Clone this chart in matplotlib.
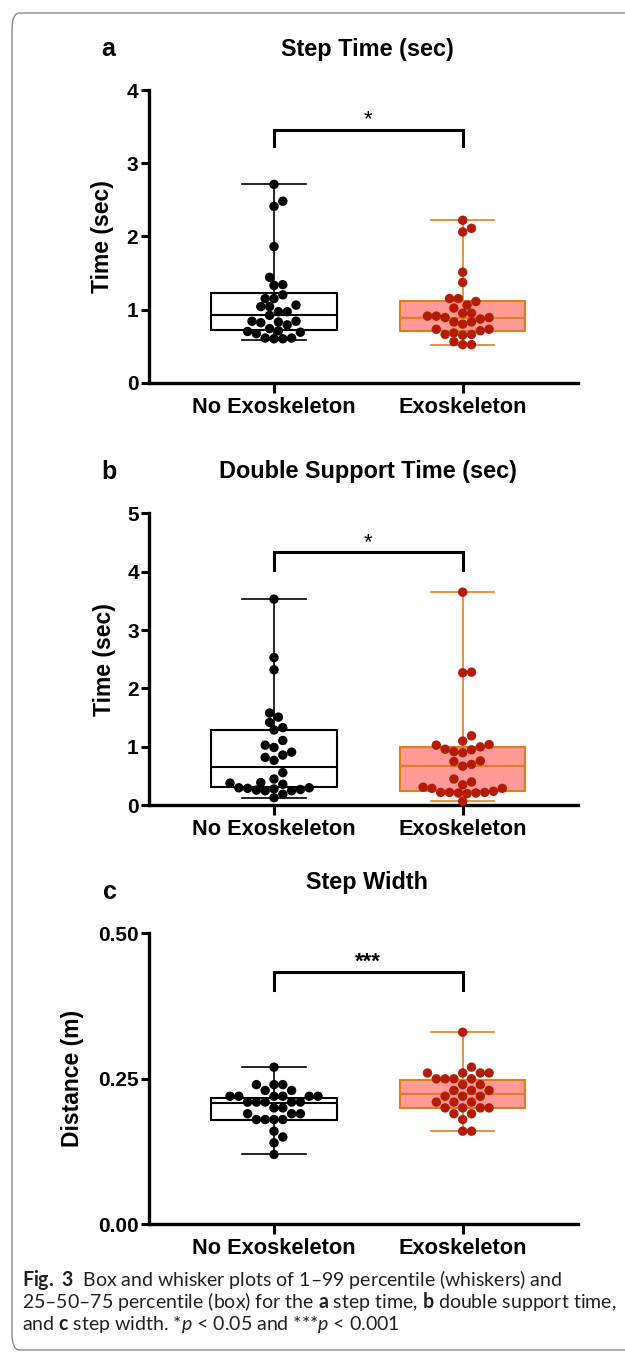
import numpy as np
import matplotlib
matplotlib.use("Agg")
import matplotlib.pyplot as plt
from matplotlib.patches import FancyBboxPatch

# ---------------- data ----------------
categories = ["No Exoskeleton", "Exoskeleton"]

step_time_no = [2.71, 2.48, 2.41, 1.86, 1.44, 1.34, 1.33, 1.20, 1.15, 1.15,
                1.06, 1.04, 1.04, 0.97, 0.97, 0.92, 0.84, 0.84, 0.83, 0.82,
                0.79, 0.74, 0.71, 0.70, 0.69, 0.67, 0.61, 0.61, 0.60, 0.60]
step_time_exo = [2.22, 2.11, 2.06, 1.51, 1.37, 1.15, 1.15, 1.11, 1.06, 1.02,
                 0.95, 0.95, 0.91, 0.91, 0.89, 0.89, 0.87, 0.83, 0.83, 0.80,
                 0.73, 0.73, 0.71, 0.68, 0.66, 0.66, 0.65, 0.56, 0.52, 0.52]

dst_no = [3.53, 2.53, 2.32, 1.58, 1.51, 1.42, 1.33, 1.29, 1.11, 1.03,
          0.99, 0.91, 0.86, 0.82, 0.77, 0.56, 0.45, 0.39, 0.38, 0.36,
          0.30, 0.30, 0.29, 0.28, 0.27, 0.26, 0.25, 0.25, 0.19, 0.13]
dst_exo = [3.65, 2.28, 2.27, 1.19, 1.10, 1.04, 1.03, 1.00, 0.96, 0.95,
           0.92, 0.90, 0.76, 0.75, 0.70, 0.67, 0.45, 0.40, 0.35, 0.31,
           0.29, 0.29, 0.24, 0.22, 0.22, 0.22, 0.21, 0.21, 0.20, 0.07]

width_no = [0.27, 0.24, 0.24, 0.24, 0.23, 0.23, 0.22, 0.22, 0.22, 0.22,
            0.22, 0.22, 0.21, 0.21, 0.21, 0.21, 0.21, 0.20, 0.20, 0.19,
            0.19, 0.19, 0.18, 0.18, 0.18, 0.18, 0.16, 0.15, 0.14, 0.12]
width_exo = [0.33, 0.27, 0.26, 0.26, 0.26, 0.26, 0.25, 0.25, 0.25, 0.25,
             0.24, 0.24, 0.23, 0.23, 0.23, 0.22, 0.22, 0.22, 0.21, 0.21,
             0.21, 0.20, 0.20, 0.20, 0.20, 0.19, 0.19, 0.18, 0.16, 0.16]

# box stats: [whisker low (1st pct), q1, median, q3, whisker high (99th pct)]
step_time_box_no = [0.59, 0.72, 0.93, 1.22, 2.71]
step_time_box_exo = [0.51, 0.71, 0.89, 1.11, 2.22]
dst_box_no = [0.13, 0.31, 0.66, 1.29, 3.53]
dst_box_exo = [0.075, 0.25, 0.68, 0.99, 3.65]
width_box_no = [0.12, 0.180, 0.209, 0.2175, 0.27]
width_box_exo = [0.16, 0.2004, 0.224, 0.248, 0.33]

panel_letters = ["a", "b", "c"]
panel_titles = ["Step Time (sec)", "Double Support Time (sec)", "Step Width"]
y_labels = ["Time (sec)", "Time (sec)", "Distance (m)"]
y_ticks = [[0, 1, 2, 3, 4], [0, 1, 2, 3, 4, 5], [0.0, 0.25, 0.5]]
y_ticklabels = [["0", "1", "2", "3", "4"], ["0", "1", "2", "3", "4", "5"],
                ["0.00", "0.25", "0.50"]]
y_limits = [(0, 4), (0, 5), (0, 0.5)]
sig_labels = ["*", "*", "***"]
sig_bar_y = [3.45, 4.33, 0.433]
sig_tip_y = [3.23, 4.03, 0.4026]
sig_text_y = [3.60, 4.50, 0.450]

caption_lines = [
    r"$\mathbf{Fig.\ 3}$  Box and whisker plots of 1–99 percentile (whiskers) and",
    r"25–50–75 percentile (box) for the $\mathbf{a}$ step time, $\mathbf{b}$ double support time,",
    r"and $\mathbf{c}$ step width. *$\mathit{p}$ < 0.05 and ***$\mathit{p}$ < 0.001",
]

# ---------------- style ----------------
plt.rcParams["font.family"] = ["Liberation Sans", "DejaVu Sans"]
plt.rcParams["mathtext.fontset"] = "custom"
plt.rcParams["mathtext.rm"] = "Lato"
plt.rcParams["mathtext.bf"] = "Lato:bold"
plt.rcParams["mathtext.it"] = "Lato:italic"

W, H = 625, 1356
fig = plt.figure(figsize=(W / 100, H / 100), dpi=100)
fig.patch.set_facecolor("white")

# frame with rounded corners
frame = FancyBboxPatch((12 / W, 1 - 1350 / H), (W + 40) / W, (1350 - 13) / H,
                       boxstyle="round,pad=0,rounding_size=0.012",
                       transform=fig.transFigure, facecolor="none",
                       edgecolor="#8a8a8a", linewidth=1.0)
fig.patches.append(frame)

EXO_FACE = "#FF9A97"
EXO_EDGE = "#DE8020"
EXO_DOT = "#B51C06"

cat_px = (274.0, 462.7)
unit_px = cat_px[1] - cat_px[0]
right_px = 578.0

# axes rectangles in pixels: left, top, bottom
axes_px = [(148.5, 90.0, 382.7), (149.0, 513.3, 805.3), (149.0, 933.3, 1224.3)]
letter_pos = [(108, 56), (109, 479), (110, 899)]
title_pos = [(367.5, 56), (367.5, 478), (367.5, 889)]
ylabel_x = [103, 104, 73]

datasets = [(step_time_no, step_time_exo), (dst_no, dst_exo), (width_no, width_exo)]
boxes = [(step_time_box_no, step_time_box_exo), (dst_box_no, dst_box_exo),
         (width_box_no, width_box_exo)]


def swarm(ypix, d):
    ypix = np.asarray(ypix, float)
    order = np.argsort(ypix)
    placed = []
    xs = np.zeros(len(ypix))
    step = d / 2.0
    for i in order:
        y = ypix[i]
        k = 0
        chosen = None
        while chosen is None:
            if k == 0:
                cands = [0.0]
            else:
                near = [px for px, py in placed if abs(py - y) < 2 * d]
                bal = sum(near)
                cands = [-k * step, k * step] if bal > 0 else [k * step, -k * step]
            for c in cands:
                if all((c - px) ** 2 + (y - py) ** 2 >= (d * 0.995) ** 2 for px, py in placed):
                    chosen = c
                    break
            k += 1
        xs[i] = chosen
        placed.append((chosen, y))
    return xs


for p in range(3):
    left, top, bottom = axes_px[p]
    ax = fig.add_axes([left / W, 1 - bottom / H, (right_px - left) / W, (bottom - top) / H])
    ax.set_facecolor("none")
    ax.set_xlim((left - cat_px[0]) / unit_px, (right_px - cat_px[0]) / unit_px)
    ax.set_ylim(*y_limits[p])
    for s in ["top", "right"]:
        ax.spines[s].set_visible(False)
    for s in ["left", "bottom"]:
        ax.spines[s].set_linewidth(2.4)
    ax.set_xticks([0, 1])
    ax.set_xticklabels(categories, fontsize=15.7, fontweight="bold")
    ax.set_yticks(y_ticks[p])
    ax.set_yticklabels(y_ticklabels[p], fontsize=15, fontweight="bold")
    ax.tick_params(axis="y", length=5.8, width=2.2, pad=1.5)
    ax.tick_params(axis="x", length=7.5, width=2.2, pad=2.5)

    # boxes
    bw = 125.3 / unit_px
    cw = 63.3 / unit_px
    for g, (st, face, edge) in enumerate(zip(boxes[p], ["white", EXO_FACE], ["black", EXO_EDGE])):
        stat = dict(whislo=st[0], q1=st[1], med=st[2], q3=st[3], whishi=st[4], fliers=[])
        ax.bxp([stat], positions=[g], widths=bw, capwidths=cw, patch_artist=True,
               showfliers=False,
               boxprops=dict(facecolor=face, edgecolor=edge, linewidth=1.5),
               medianprops=dict(color=edge, linewidth=1.5),
               whiskerprops=dict(color=edge, linewidth=1.2),
               capprops=dict(color=edge, linewidth=1.2),
               manage_ticks=False, zorder=2)

    # points
    fig.canvas.draw()
    for g, (vals, col) in enumerate(zip(datasets[p], ["black", EXO_DOT])):
        vals = np.asarray(vals, float)
        ypix = ax.transData.transform(np.column_stack([np.full(len(vals), g), vals]))[:, 1]
        offs = swarm(ypix, 8.8)
        xs = g + offs / unit_px
        ax.scatter(xs, vals, s=46, color=col, edgecolors="none", zorder=3, clip_on=False)

    # significance bracket
    ax.plot([0, 0, 1, 1], [sig_tip_y[p], sig_bar_y[p], sig_bar_y[p], sig_tip_y[p]],
            color="black", linewidth=2.2, solid_joinstyle="miter", clip_on=False)
    ax.text(0.5, sig_text_y[p], sig_labels[p], ha="center", va="center",
            fontsize=16, fontweight="bold" if p == 2 else "normal")

    # texts
    fig.text(ylabel_x[p] / W, 1 - (top + bottom) / 2 / H, y_labels[p], rotation=90,
             ha="center", va="center", fontsize=16.5, fontweight="bold")
    fig.text(letter_pos[p][0] / W, 1 - letter_pos[p][1] / H, panel_letters[p],
             ha="center", va="baseline", fontsize=18, fontweight="bold")
    fig.text(title_pos[p][0] / W, 1 - title_pos[p][1] / H, panel_titles[p],
             ha="center", va="baseline", fontsize=16.9, fontweight="bold")

# caption
cap_y = [1286, 1308, 1330]
renderer = fig.canvas.get_renderer()
caps = []
for i, line in enumerate(caption_lines):
    t = fig.text(22 / W, 1 - cap_y[i] / H, line, ha="left", va="baseline",
                 fontsize=12, family="Lato", color="#231f20")
    caps.append(t)
w2 = caps[1].get_window_extent(renderer).width
size = 12 * (595.0 / w2)
for t in caps:
    t.set_fontsize(size)

fig.savefig("out.png", dpi=100)
